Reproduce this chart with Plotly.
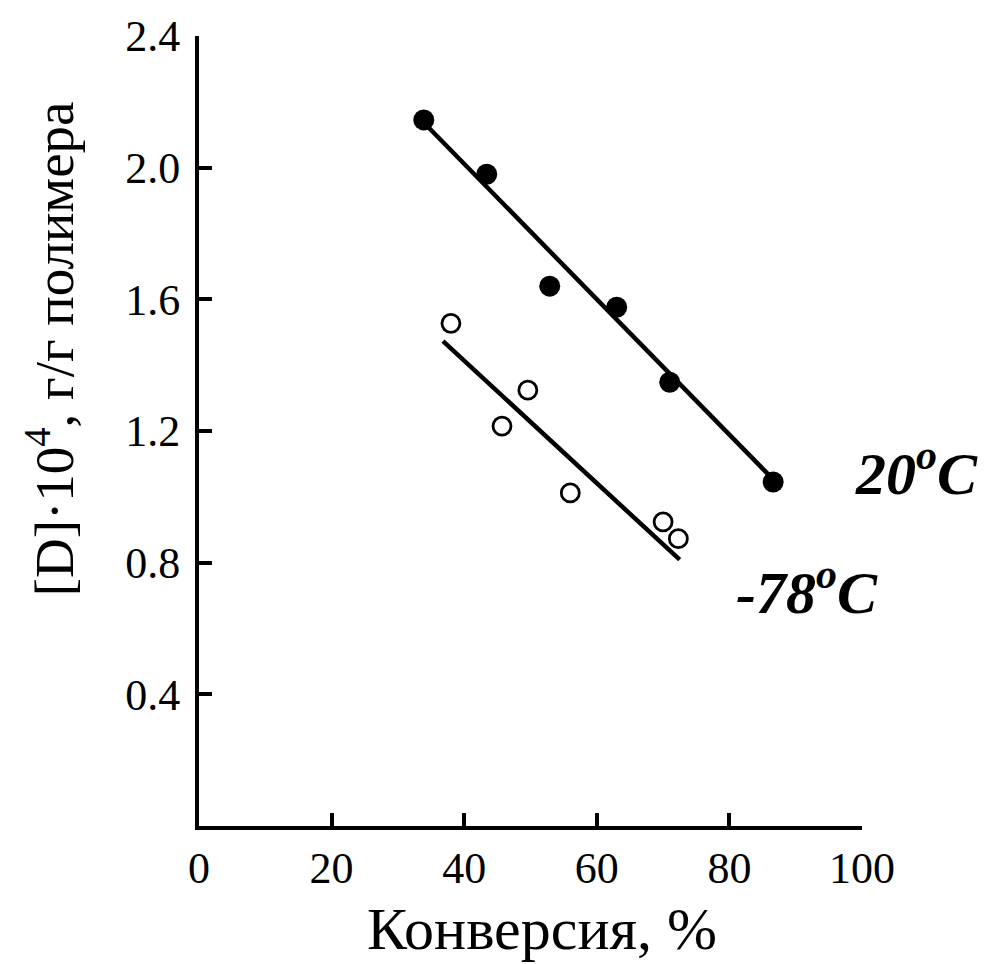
import plotly.graph_objects as go

# Measured points: dose [D]*1e4 (g/g polymer) vs conversion (%)
conv_20 = [33.9, 43.4, 52.9, 63.0, 71.0, 86.6]
d_20 = [2.145, 1.98, 1.64, 1.576, 1.348, 1.045]

conv_78 = [38.0, 45.7, 49.6, 56.0, 70.0, 72.3]
d_78 = [1.527, 1.215, 1.324, 1.012, 0.924, 0.873]

# Straight-line fits drawn through each series
fit_20_x = [34.0, 87.0]
fit_20_y = [2.135, 1.045]
fit_78_x = [36.8, 72.5]
fit_78_y = [1.473, 0.809]

x_ticks = [0, 20, 40, 60, 80, 100]
y_ticks = [0.4, 0.8, 1.2, 1.6, 2.0, 2.4]
y_tick_text = ["0.4", "0.8", "1.2", "1.6", "2.0", "2.4"]

FONT = "Liberation Serif, Times New Roman, serif"

fig = go.Figure()

fig.add_trace(go.Scatter(x=fit_20_x, y=fit_20_y, mode="lines",
                         line=dict(color="black", width=4.5), showlegend=False))
fig.add_trace(go.Scatter(x=fit_78_x, y=fit_78_y, mode="lines",
                         line=dict(color="black", width=4.5), showlegend=False))
fig.add_trace(go.Scatter(x=conv_20, y=d_20, mode="markers",
                         marker=dict(symbol="circle", size=21, color="black",
                                     line=dict(width=0)),
                         showlegend=False, cliponaxis=False))
fig.add_trace(go.Scatter(x=conv_78, y=d_78, mode="markers",
                         marker=dict(symbol="circle", size=18, color="white",
                                     line=dict(width=2.8, color="black")),
                         showlegend=False, cliponaxis=False))

fig.update_layout(
    width=988, height=964,
    margin=dict(l=199, r=126, t=33, b=138),
    paper_bgcolor="white", plot_bgcolor="white",
    font=dict(family=FONT, color="black", size=44),
    xaxis=dict(range=[0, 100], tickvals=x_ticks, ticks="inside", ticklen=13,
               tickwidth=4, tickcolor="black", showline=True, linewidth=4,
               linecolor="black", showgrid=False, zeroline=False,
               tickfont=dict(family=FONT, size=44), ticklabelstandoff=0),
    yaxis=dict(range=[0, 2.4], tickvals=y_ticks, ticktext=y_tick_text,
               ticks="inside", ticklen=13, tickwidth=4, tickcolor="black",
               showline=True, linewidth=4, linecolor="black", showgrid=False,
               zeroline=False, tickfont=dict(family=FONT, size=44),
               ticklabelstandoff=6),
    annotations=[
        dict(text="Конверсия, %", xref="paper", yref="paper", x=0.517, y=-0.1305,
             showarrow=False, font=dict(family=FONT, size=60),
             xanchor="center", yanchor="middle"),
        dict(text="[D]·10<sup>4</sup>, г/г полимера", xref="paper", yref="paper",
             x=-0.224, y=0.604, textangle=-90, showarrow=False,
             font=dict(family=FONT, size=55), xanchor="center", yanchor="middle"),
        dict(text="<b><i>20<sup>o</sup>C</i></b>", xref="paper", yref="paper",
             x=1.082, y=0.4515, showarrow=False,
             font=dict(family=FONT, size=60), xanchor="center", yanchor="middle"),
        dict(text="<b><i>-78<sup>o</sup>C</i></b>", x=91.7, y=0.721, showarrow=False,
             font=dict(family=FONT, size=60), xanchor="center", yanchor="middle"),
    ],
)

fig.write_html("out.html")
